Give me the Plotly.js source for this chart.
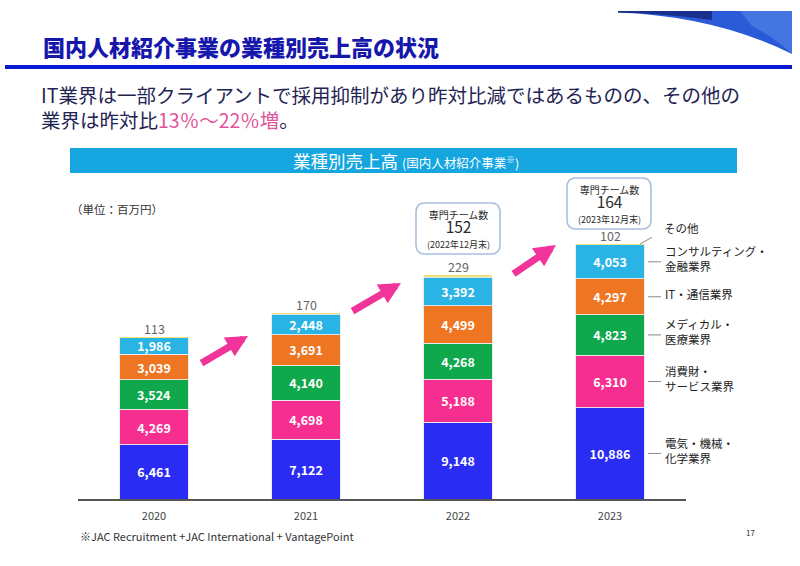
<!DOCTYPE html>
<html>
<head>
<meta charset="utf-8">
<script src="https://cdn.plot.ly/plotly-3.0.1.min.js"></script>
<style>
html,body{margin:0;padding:0;background:#fff;}
#chart{width:800px;height:566px;}
</style>
</head>
<body>
<div id="chart"></div>
<script>
// ---- data ----
const years = ['2020', '2021', '2022', '2023'];
const electric = [6461, 7122, 9148, 10886];      // 電気・機械・化学業界
const consumer = [4269, 4698, 5188, 6310];       // 消費財・サービス業界
const medical = [3524, 4140, 4268, 4823];        // メディカル・医療業界
const itTelecom = [3039, 3691, 4499, 4297];      // IT・通信業界
const consulting = [1986, 2448, 3392, 4053];     // コンサルティング・金融業界
const other = [113, 170, 229, 102];              // その他
const seriesNames = ['電気・機械・<br>化学業界', '消費財・<br>サービス業界', 'メディカル・<br>医療業界', 'IT・通信業界', 'コンサルティング・<br>金融業界', 'その他'];
const teamYears = ['2022', '2023'];
const teamCounts = [152, 164];
const teamDates = ['(2022年12月末)', '(2023年12月末)'];

// ---- helpers ----
const W = 800, H = 566;
const px = x => x / W;
const py = y => 1 - y / H;
const fmt = v => v.toLocaleString('en-US');
const FONT = '"Noto Sans CJK JP", "Noto Sans", sans-serif';

const series = [electric, consumer, medical, itTelecom, consulting, other];
const colors = ['#2b2cf3', '#f62e8f', '#0fa84c', '#ee7522', '#2ab4e6', '#f2e27a'];

const traces = series.map((vals, i) => {
  const isOther = i === series.length - 1;
  return {
    type: 'bar',
    x: years,
    y: vals,
    name: seriesNames[i],
    marker: {color: colors[i], line: {color: isOther ? '#f2e27a' : 'rgba(235,235,235,0.9)', width: isOther ? 0 : 1}},
    text: isOther ? undefined : vals.map(fmt),
    textposition: isOther ? 'none' : 'inside',
    insidetextanchor: 'middle',
    textangle: 0,
    constraintext: 'none',
    cliponaxis: false,
    textfont: {family: FONT, size: 12.5, color: '#ffffff', weight: 700},
    hoverinfo: 'skip'
  };
});

// ---- shapes ----
const shapes = [];
// blue rule under title
shapes.push({type: 'rect', xref: 'paper', yref: 'paper', x0: px(5), x1: px(792), y0: py(69), y1: py(65), fillcolor: '#0b18d2', line: {width: 0}, layer: 'above'});
// top-right decorative wedge
shapes.push({type: 'path', xref: 'paper', yref: 'paper',
  path: `M ${px(618)},${py(11)} L ${px(792)},${py(11)} L ${px(792)},${py(54)} Q ${px(715)},${py(16)} ${px(618)},${py(12.5)} Z`,
  fillcolor: '#2a5ad6', line: {width: 0}});
shapes.push({type: 'path', xref: 'paper', yref: 'paper',
  path: `M ${px(618)},${py(11)} L ${px(712)},${py(11)} L ${px(712)},${py(20)} Q ${px(665)},${py(13.5)} ${px(618)},${py(12.5)} Z`,
  fillcolor: '#1a2f8c', line: {width: 0}});
shapes.push({type: 'path', xref: 'paper', yref: 'paper',
  path: `M ${px(740)},${py(11)} L ${px(792)},${py(11)} L ${px(792)},${py(54)} Q ${px(775)},${py(38)} ${px(752)},${py(26)} Z`,
  fillcolor: 'rgba(120,170,245,0.35)', line: {width: 0}});
// banner
shapes.push({type: 'rect', xref: 'paper', yref: 'paper', x0: px(70), x1: px(737), y0: py(173), y1: py(148), fillcolor: '#16a6df', line: {width: 0}});

// callout boxes (rounded)
function roundRect(x0, y0, x1, y1, r) {
  return `M ${px(x0 + r)},${py(y0)} L ${px(x1 - r)},${py(y0)} Q ${px(x1)},${py(y0)} ${px(x1)},${py(y0 + r)} ` +
    `L ${px(x1)},${py(y1 - r)} Q ${px(x1)},${py(y1)} ${px(x1 - r)},${py(y1)} ` +
    `L ${px(x0 + r)},${py(y1)} Q ${px(x0)},${py(y1)} ${px(x0)},${py(y1 - r)} ` +
    `L ${px(x0)},${py(y0 + r)} Q ${px(x0)},${py(y0)} ${px(x0 + r)},${py(y0)} Z`;
}
const boxes = [{x0: 416, y0: 203, x1: 500, y1: 254}, {x0: 567, y0: 178, x1: 651, y1: 229}];
boxes.forEach(b => shapes.push({type: 'path', xref: 'paper', yref: 'paper', path: roundRect(b.x0, b.y0, b.x1, b.y1, 9),
  fillcolor: '#ffffff', line: {color: '#a9c0dd', width: 1.6}}));

// ---- annotations ----
const ann = [];
const A = (o) => ann.push(Object.assign({xref: 'paper', yref: 'paper', showarrow: false, yanchor: 'middle', font: {family: FONT}}, o));

A({x: px(41), y: py(46), xanchor: 'left', text: '国内人材紹介事業の業種別売上高の状況', font: {family: FONT, size: 22, color: '#1717ab', weight: 900}});
A({x: px(39), y: py(107), xanchor: 'left', align: 'left',
  text: 'IT業界は一部クライアントで採用抑制があり昨対比減ではあるものの、その他の<br>業界は昨対比<span style="color:#e0559b">13％～22％増</span>。',
  font: {family: FONT, size: 19.5, color: '#1f2553'}});
A({x: px(406), y: py(160), xanchor: 'center', text: '業種別売上高 <span style="font-size:12.5px">(国内人材紹介事業<sup>※</sup>)</span>', font: {family: FONT, size: 17.5, color: '#ffffff'}});
A({x: px(69), y: py(209), xanchor: 'left', text: '（単位：百万円）', font: {family: FONT, size: 11.5, color: '#333'}});
A({x: px(78), y: py(536), xanchor: 'left', text: '※JAC Recruitment +JAC International + VantagePoint', font: {family: FONT, size: 11, color: '#333'}});
A({x: px(750), y: py(532), xanchor: 'center', text: '17', font: {family: FONT, size: 8, color: '#333'}});

// callout texts
teamCounts.forEach((c, i) => {
  const b = boxes[i];
  A({x: px((b.x0 + b.x1) / 2), y: py((b.y0 + b.y1) / 2 + 0.5), xanchor: 'center', align: 'center',
    text: '<span style="font-size:10px">専門チーム数</span><br><span style="font-size:15.5px">' + c + '</span><br><span style="font-size:9px">' + teamDates[i] + '</span>',
    font: {family: FONT, size: 11, color: '#2a2a2a'}});
});

// その他 values above bars
years.forEach((yr, k) => {
  const total = series.reduce((s, arr) => s + arr[k], 0);
  ann.push({xref: 'x', yref: 'y', x: k, y: total, yanchor: 'bottom', xanchor: 'center', yshift: -3, showarrow: false,
    text: fmt(other[k]), font: {family: FONT, size: 12.5, color: '#666'}});
});

// growth arrows
const arrows = [{tip: [248, 336], tail: [200, 364]}, {tip: [401, 283], tail: [351, 312]}, {tip: [556, 245], tail: [512, 275]}];
arrows.forEach(a => ann.push({xref: 'paper', yref: 'paper', x: px(a.tip[0]), y: py(a.tip[1]), ax: a.tail[0] - a.tip[0], ay: a.tail[1] - a.tip[1],
  showarrow: true, arrowhead: 2, arrowsize: 0.62, arrowwidth: 7, arrowcolor: '#f0349a', text: ''}));

// right-side series labels for 2023 with leader lines
const last = years.length - 1;
let cum = 0;
series.forEach((vals, i) => {
  const v = vals[last];
  const mid = cum + v / 2;
  cum += v;
  if (i < series.length - 1) {
    shapes.push({type: 'line', xref: 'paper', yref: 'y', x0: px(648), x1: px(661), y0: mid, y1: mid, line: {color: '#888', width: 1}});
    ann.push({xref: 'paper', yref: 'y', x: px(663), y: mid, yshift: 3, xanchor: 'left', yanchor: 'middle', align: 'left', showarrow: false,
      text: seriesNames[i], font: {family: FONT, size: 11.5, color: '#222'}});
  } else {
    shapes.push({type: 'line', xref: 'paper', yref: 'y', x0: px(640), x1: px(652), y0: cum, y1: cum + 800, line: {color: '#888', width: 1}});
    ann.push({xref: 'paper', yref: 'y', x: px(662), y: cum + 1900, xanchor: 'left', yanchor: 'middle', align: 'left', showarrow: false,
      text: seriesNames[i], font: {family: FONT, size: 11.5, color: '#222'}});
  }
});

const layout = {
  width: W, height: H,
  margin: {l: 0, r: 0, t: 0, b: 0, pad: 0},
  paper_bgcolor: '#ffffff', plot_bgcolor: 'rgba(0,0,0,0)',
  barmode: 'stack', bargap: 0.55,
  showlegend: false,
  font: {family: FONT},
  xaxis: {type: 'category', categoryorder: 'array', categoryarray: years, domain: [px(78), px(686)], range: [-0.5, 3.5],
    showline: true, linecolor: '#555', linewidth: 1.5, ticks: '', showgrid: false, zeroline: false, fixedrange: true,
    ticklabelstandoff: 6, tickfont: {family: FONT, size: 11, color: '#444'}},
  yaxis: {domain: [1 - 499 / H, 1 - 181 / H], range: [0, 38000], visible: false, fixedrange: true},
  shapes: shapes,
  annotations: ann
};

Plotly.newPlot('chart', traces, layout, {staticPlot: true, displayModeBar: false});
</script>
</body>
</html>
